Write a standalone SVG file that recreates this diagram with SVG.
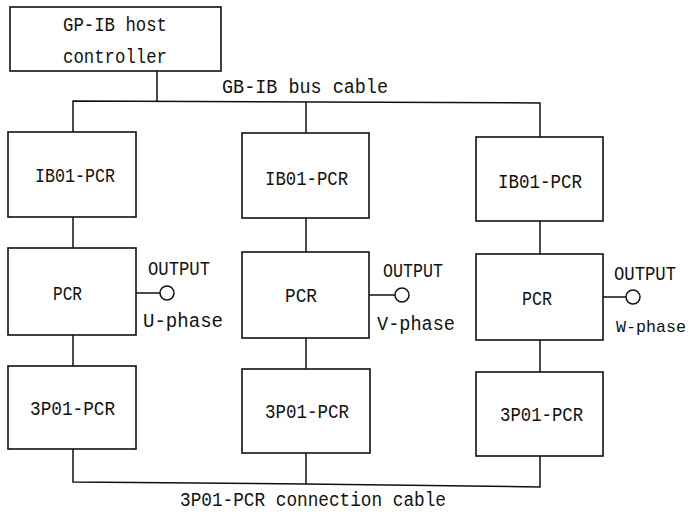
<svg xmlns="http://www.w3.org/2000/svg" width="691" height="515" viewBox="0 0 691 515">
<style>
.box{fill:#fff;stroke:#111;stroke-width:1.6}
.ln{fill:none;stroke:#111;stroke-width:1.5}
.t{font-family:"Liberation Mono","DejaVu Sans Mono",monospace;font-size:20px;fill:#111}
.c{fill:#fff;stroke:#111;stroke-width:1.5}
</style>
<rect width="691" height="515" fill="#fff"/>
<g id="connectors">
<polyline class="ln" points="157,71 157,101"/>
<polyline class="ln" points="73,132 73,101 540,103 540,137"/>
<line class="ln" x1="306" y1="102" x2="306" y2="133"/>
<line class="ln" x1="73" y1="217" x2="73" y2="248"/>
<line class="ln" x1="306" y1="218" x2="306" y2="252"/>
<line class="ln" x1="540" y1="221" x2="540" y2="254"/>
<line class="ln" x1="73" y1="335" x2="73" y2="366"/>
<line class="ln" x1="306" y1="338" x2="306" y2="369"/>
<line class="ln" x1="540" y1="340" x2="540" y2="372"/>
<polyline class="ln" points="73,449 73,482 306,484 540,487 540,456"/>
<line class="ln" x1="306" y1="453" x2="306" y2="484"/>
<line class="ln" x1="136" y1="293" x2="160" y2="293"/>
<line class="ln" x1="369" y1="295" x2="395" y2="295"/>
<line class="ln" x1="603" y1="297" x2="626" y2="297"/>
<text class="t" x="222" y="93" textLength="166" lengthAdjust="spacingAndGlyphs">GB-IB bus cable</text>
<text class="t" x="180" y="506" textLength="266" lengthAdjust="spacingAndGlyphs">3P01-PCR connection cable</text>
</g>
<g id="host">
<rect class="box" x="10" y="7" width="211" height="64"/>
<text class="t" x="63" y="31" textLength="104" lengthAdjust="spacingAndGlyphs">GP-IB host</text>
<text class="t" x="63" y="63" textLength="104" lengthAdjust="spacingAndGlyphs">controller</text>
</g>
<g id="ib01-1">
<rect class="box" x="8" y="132" width="128" height="85"/>
<text class="t" x="35" y="182" textLength="80" lengthAdjust="spacingAndGlyphs">IB01-PCR</text>
</g>
<g id="ib01-2">
<rect class="box" x="242" y="133" width="127" height="85"/>
<text class="t" x="265" y="185" textLength="83" lengthAdjust="spacingAndGlyphs">IB01-PCR</text>
</g>
<g id="ib01-3">
<rect class="box" x="476" y="137" width="127" height="84"/>
<text class="t" x="498" y="188" textLength="84" lengthAdjust="spacingAndGlyphs">IB01-PCR</text>
</g>
<g id="pcr-1">
<rect class="box" x="8" y="248" width="128" height="87"/>
<text class="t" x="53" y="300" textLength="29" lengthAdjust="spacingAndGlyphs">PCR</text>
</g>
<g id="pcr-2">
<rect class="box" x="242" y="252" width="127" height="86"/>
<text class="t" x="285" y="302" textLength="32" lengthAdjust="spacingAndGlyphs">PCR</text>
</g>
<g id="pcr-3">
<rect class="box" x="476" y="254" width="127" height="86"/>
<text class="t" x="522" y="305" textLength="30" lengthAdjust="spacingAndGlyphs">PCR</text>
</g>
<g id="out-u">
<circle class="c" cx="167" cy="293" r="7"/>
<text class="t" x="148" y="275" textLength="62" lengthAdjust="spacingAndGlyphs">OUTPUT</text>
<text class="t" x="143" y="327" textLength="80" lengthAdjust="spacingAndGlyphs">U-phase</text>
</g>
<g id="out-v">
<circle class="c" cx="402" cy="295" r="7"/>
<text class="t" x="383" y="277" textLength="60" lengthAdjust="spacingAndGlyphs">OUTPUT</text>
<text class="t" x="377" y="330" textLength="78" lengthAdjust="spacingAndGlyphs">V-phase</text>
</g>
<g id="out-w">
<circle class="c" cx="633" cy="297" r="7"/>
<text class="t" x="614" y="280" textLength="62" lengthAdjust="spacingAndGlyphs">OUTPUT</text>
<text class="t" x="616" y="332" style="font-size:17px" textLength="70" lengthAdjust="spacingAndGlyphs">W-phase</text>
</g>
<g id="3p01-1">
<rect class="box" x="8" y="366" width="128" height="83"/>
<text class="t" x="30" y="415" textLength="85" lengthAdjust="spacingAndGlyphs">3P01-PCR</text>
</g>
<g id="3p01-2">
<rect class="box" x="242" y="369" width="128" height="84"/>
<text class="t" x="265" y="418" textLength="84" lengthAdjust="spacingAndGlyphs">3P01-PCR</text>
</g>
<g id="3p01-3">
<rect class="box" x="476" y="372" width="127" height="84"/>
<text class="t" x="500" y="421" textLength="83" lengthAdjust="spacingAndGlyphs">3P01-PCR</text>
</g>
</svg>
